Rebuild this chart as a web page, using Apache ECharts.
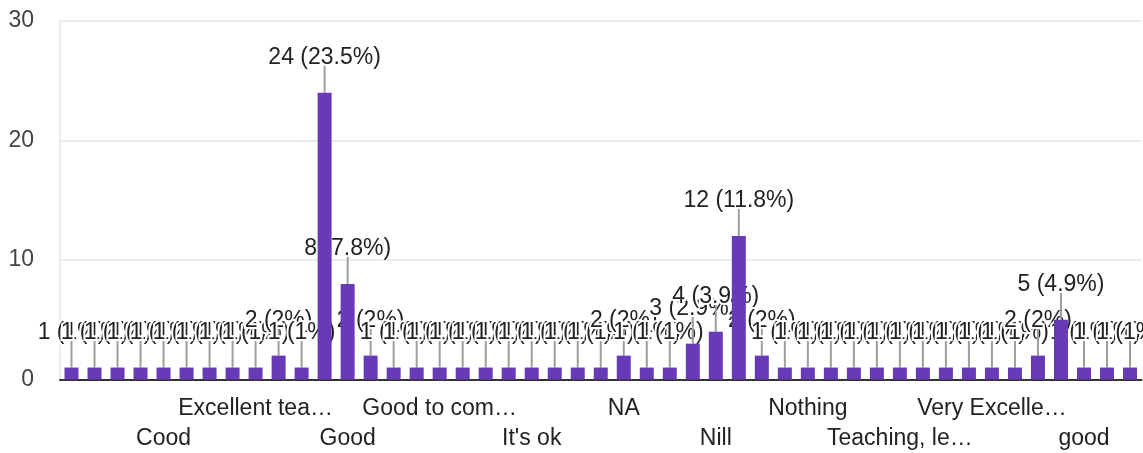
<!DOCTYPE html>
<html>
<head>
<meta charset="utf-8">
<script src="https://cdn.jsdelivr.net/npm/echarts@6/dist/echarts.min.js"></script>
<style>html,body{margin:0;padding:0;background:#fff}#c{width:1143px;height:453px}</style>
</head>
<body>
<div id="c"></div>
<script>
// Categories (only every 4th label is legible in the reference; others are placeholders)
const categories = [
  "Answer 1","Answer 2","Answer 3","Answer 4","Cood","Answer 6","Answer 7","Answer 8",
  "Excellent tea…","Answer 10","Answer 11","Answer 12","Good","Answer 14","Answer 15","Answer 16",
  "Good to com…","Answer 18","Answer 19","Answer 20","It's ok","Answer 22","Answer 23","Answer 24",
  "NA","Answer 26","Answer 27","Answer 28","Nill","Answer 30","Answer 31","Answer 32",
  "Nothing","Answer 34","Answer 35","Answer 36","Teaching, le…","Answer 38","Answer 39","Answer 40",
  "Very Excelle…","Answer 42","Answer 43","Answer 44","good","Answer 46","Answer 47"
];
const counts = [
  1,1,1,1,1,1,1,1,1,2,1,24,8,2,1,1,
  1,1,1,1,1,1,1,1,2,1,1,3,4,12,2,1,
  1,1,1,1,1,1,1,1,1,1,2,5,1,1,1
];
const yTicks = [0, 10, 20, 30];

const total = counts.reduce((a, b) => a + b, 0);
const pctLabel = v => v + " (" + parseFloat((v / total * 100).toFixed(1)) + "%)";
const FONT = '"Liberation Sans", Arial, sans-serif';

const labelCommon = {fontFamily: FONT, fontSize: 23, color: '#222', hideOverlap: false};

const chart = echarts.init(document.getElementById('c'), null, {renderer: 'canvas'});
chart.setOption({
  animation: false,
  grid: {left: 60, right: 1.5, top: 21, bottom: 73.5, containLabel: false},
  xAxis: [
    {
      type: 'category',
      data: categories,
      axisTick: {show: false},
      axisLine: {lineStyle: {color: '#333', width: 2}},
      axisLabel: Object.assign({
        interval: (i) => i >= 8 && i % 8 === 0,
        margin: 18
      }, labelCommon)
    },
    {
      type: 'category',
      position: 'bottom',
      data: categories,
      axisTick: {show: false},
      axisLine: {show: false},
      splitLine: {show: false},
      axisLabel: Object.assign({
        interval: (i) => i >= 4 && i % 8 === 4,
        margin: 48
      }, labelCommon)
    }
  ],
  yAxis: {
    type: 'value',
    min: yTicks[0], max: yTicks[yTicks.length - 1], interval: 10,
    axisLine: {show: true, lineStyle: {color: '#ebebeb', width: 2}},
    axisTick: {show: false},
    splitLine: {lineStyle: {color: '#ebebeb', width: 2}},
    axisLabel: {fontFamily: FONT, fontSize: 23, color: '#444', margin: 26}
  },
  series: [
    {
      type: 'bar',
      data: counts,
      barWidth: 14,
      itemStyle: {color: '#673ab7'}
    },
    {
      type: 'custom',
      data: counts.map((v, i) => [i, v]),
      renderItem: (params, api) => {
        const i = api.value(0), v = api.value(1);
        const p = api.coord([i, v]);
        return {
          type: 'group',
          children: [
            {type: 'line', shape: {x1: p[0], y1: p[1], x2: p[0], y2: p[1] - 30},
             style: {stroke: '#9e9e9e', lineWidth: 2}},
            {type: 'text', style: {
              text: pctLabel(counts[params.dataIndex]), x: p[0], y: p[1] - 35,
              align: 'center', verticalAlign: 'middle',
              font: '23px ' + FONT, fill: '#222', stroke: '#fff', lineWidth: 4
            }}
          ]
        };
      }
    }
  ]
});
</script>
</body>
</html>
